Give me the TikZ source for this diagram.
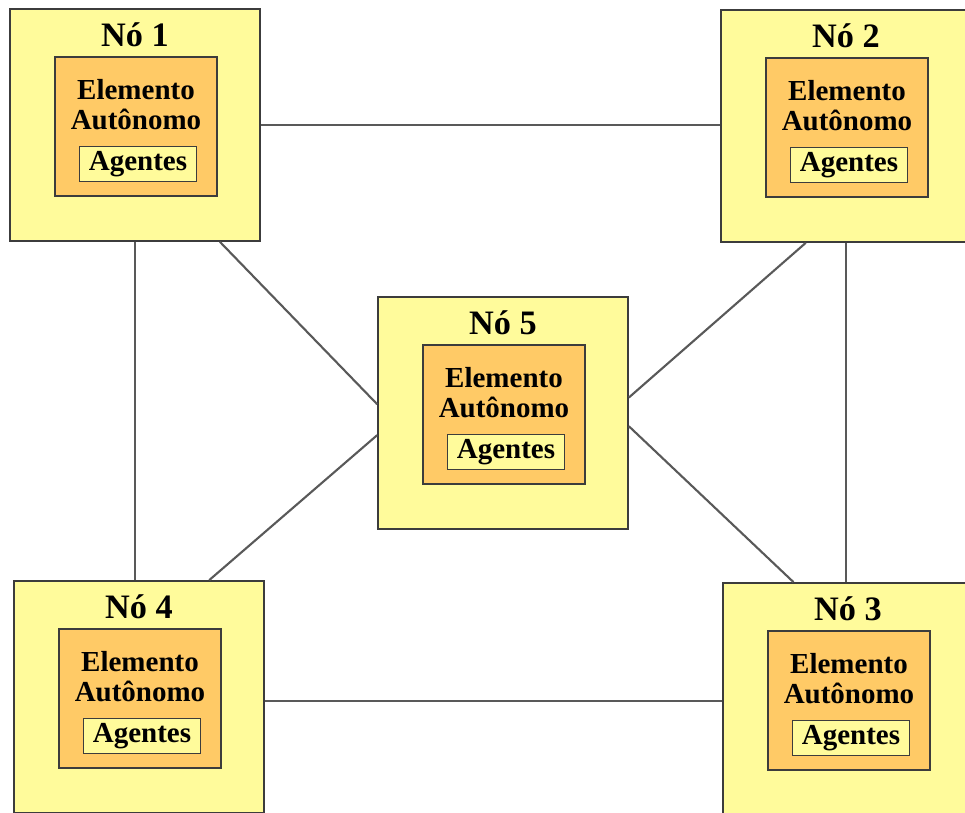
\documentclass[tikz,border=0pt]{standalone}
\usepackage{fontspec}
\setmainfont{Liberation Serif}
\usepackage{xcolor}
\usetikzlibrary{positioning}
\definecolor{noyellow}{HTML}{FFFB9B}
\definecolor{elorange}{HTML}{FFCA66}
\definecolor{edgegray}{HTML}{3C3C3C}

\begin{document}
\begin{tikzpicture}[x=0.02cm,y=-0.02cm,
    no/.style={draw=edgegray,line width=1pt,fill=noyellow,minimum width=5cm,minimum height=4.64cm,inner sep=0pt},
    elem/.style={draw=edgegray,line width=1pt,fill=elorange,minimum width=3.24cm,minimum height=2.78cm,inner sep=0pt},
    agbox/.style={draw=edgegray,line width=1pt,fill=noyellow,minimum width=2.34cm,minimum height=0.7cm,inner sep=0pt,
      font=\fontsize{16.5}{17}\selectfont\bfseries},
    titulo/.style={font=\fontsize{19.5}{22}\selectfont\bfseries,inner sep=0pt},
    eltxt/.style={align=center,inner sep=0pt,font=\fontsize{16.5}{17}\selectfont\bfseries},
    link/.style={draw=edgegray!85,line width=1.2pt}]
  \useasboundingbox (0,0) rectangle (965,813);
  % ---- the five nodes ----
  \foreach \n/\x/\y in {1/135/125,2/846/126,3/848/699,4/139/697,5/503/413}{
    \begin{scope}[shift={(\x,\y)}]
      \node[no] (n\n) at (0,0) {};
      \node[titulo] (t\n) at (0,-90) {Nó \n};
      \node[elem] (e\n) at (1,1.5) {};
      \node[eltxt] (x\n) at (1,-20) {Elemento\\Autônomo};
      \node[agbox] (a\n) at (3,39) {Agentes};
    \end{scope}
  }
  % ---- links ----
  \draw[link] (n1.east) -- (n1.east -| n2.west);
  \draw[link] (n1.south) -- (n1.south |- n4.north);
  \draw[link] (n2.south) -- (n2.south |- n3.north);
  \draw[link] (n4.-2) -- (n4.-2 -| n3.west);
  \draw[link] (n1.-54) -- (n5.176);
  \draw[link] (n2.-109) -- (n5.7);
  \draw[link] (n4.59) -- (n5.190);
  \draw[link] (n3.115) -- (n5.-6);
\end{tikzpicture}
\end{document}
